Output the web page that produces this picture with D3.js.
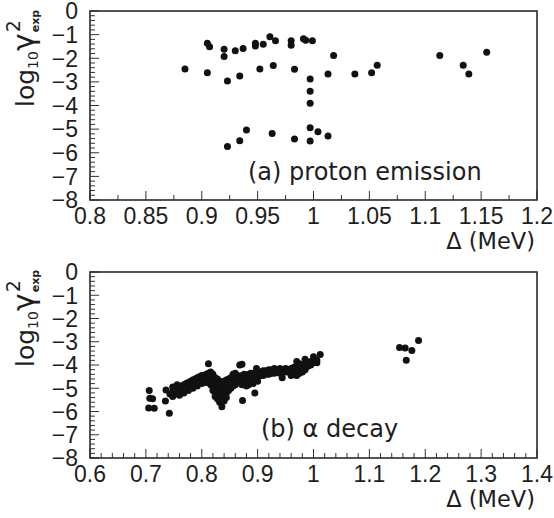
<!DOCTYPE html>
<html>
<head>
<meta charset="utf-8">
<title>log10 gamma2 exp vs Delta</title>
<script src="https://cdn.jsdelivr.net/npm/d3@7"></script>
<style>
body { margin: 0; background: #fff; }
svg text { font-family: "Liberation Sans", Arial, sans-serif; fill: #1e1e1e; }
svg text.wide { font-family: "DejaVu Sans", "Liberation Sans", sans-serif; }
</style>
</head>
<body>
<svg id="chart" width="554" height="518"></svg>
<script>

// ---- data: [Delta (MeV), log10 gamma^2_exp] ----
var protonPoints = [
    [0.885, -2.45],
    [0.905, -1.37], [0.907, -1.51], [0.905, -2.61],
    [0.920, -1.62], [0.920, -1.93], [0.923, -2.96],
    [0.930, -1.68], [0.937, -1.59], [0.934, -2.75],
    [0.923, -5.74], [0.934, -5.49], [0.940, -5.04],
    [0.948, -1.37], [0.948, -1.48], [0.955, -1.41], [0.952, -2.45],
    [0.961, -1.09], [0.964, -2.31], [0.963, -5.18], [0.966, -1.26],
    [0.980, -1.26], [0.980, -1.45], [0.983, -2.47], [0.983, -5.42],
    [0.991, -1.17], [0.993, -1.24], [0.999, -1.26],
    [0.997, -2.88], [0.997, -3.40], [0.997, -3.91], [0.997, -4.94], [0.997, -5.50],
    [1.004, -5.11], [1.013, -5.29], [1.013, -2.67], [1.018, -1.88],
    [1.037, -2.67], [1.052, -2.61], [1.057, -2.30],
    [1.113, -1.88], [1.134, -2.30], [1.139, -2.67], [1.155, -1.75]
];

var alphaPoints = [
    // left stragglers
    [0.706, -5.10], [0.707, -5.43], [0.712, -5.45], [0.705, -5.85], [0.715, -5.86],
    [0.736, -5.08], [0.735, -5.55], [0.742, -6.08], [0.743, -5.25],
    // rising band
    [0.748, -5.15], [0.748, -5.35], [0.748, -4.95], [0.752, -5.05], [0.752, -5.25],
    [0.756, -5.00], [0.756, -5.20], [0.756, -4.85], [0.760, -4.95], [0.760, -5.15], [0.760, -5.30],
    [0.764, -4.90], [0.764, -5.10], [0.768, -4.85], [0.768, -5.05], [0.768, -5.20],
    [0.772, -4.80], [0.772, -5.00], [0.776, -4.75], [0.776, -4.95], [0.776, -5.10],
    [0.780, -4.70], [0.780, -4.90], [0.784, -4.65], [0.784, -4.85], [0.784, -5.00],
    [0.788, -4.60], [0.788, -4.80], [0.792, -4.55], [0.792, -4.75], [0.792, -4.90],
    [0.796, -4.50], [0.796, -4.70], [0.800, -4.45], [0.800, -4.65], [0.800, -4.80],
    [0.804, -4.45], [0.804, -4.60], [0.808, -4.40], [0.808, -4.60], [0.808, -4.75],
    [0.812, -3.95], [0.812, -4.35], [0.812, -4.55],
    // the dip
    [0.816, -4.30], [0.816, -4.50], [0.816, -4.70], [0.816, -4.85],
    [0.820, -4.40], [0.820, -4.65], [0.820, -4.95], [0.820, -5.10],
    [0.824, -4.55], [0.824, -4.80], [0.824, -5.20], [0.824, -5.35],
    [0.828, -4.60], [0.828, -4.90], [0.828, -5.10], [0.828, -5.45],
    [0.832, -4.70], [0.832, -5.00], [0.832, -5.30], [0.832, -5.60],
    [0.836, -4.75], [0.836, -5.15], [0.836, -5.45], [0.836, -5.80],
    [0.840, -4.70], [0.840, -5.00], [0.840, -5.30], [0.840, -5.55],
    [0.844, -4.65], [0.844, -4.95], [0.844, -5.20], [0.844, -5.40],
    [0.848, -4.60], [0.848, -4.85], [0.848, -5.10],
    [0.852, -4.55], [0.852, -4.80], [0.852, -5.00],
    [0.856, -4.40], [0.856, -4.70], [0.856, -4.90],
    [0.860, -4.35], [0.860, -4.60], [0.860, -4.85],
    // upper band to the right
    [0.868, -4.00], [0.872, -3.97], [0.873, -5.53],
    [0.864, -4.45], [0.864, -4.70], [0.868, -4.50], [0.868, -4.75],
    [0.872, -4.45], [0.872, -4.65], [0.872, -4.85], [0.876, -4.40], [0.876, -4.60], [0.876, -4.80],
    [0.880, -4.45], [0.880, -4.65], [0.880, -4.90], [0.884, -4.40], [0.884, -4.60], [0.884, -4.85],
    [0.888, -4.35], [0.888, -4.55], [0.888, -4.75], [0.892, -4.35], [0.892, -4.55], [0.892, -4.80],
    [0.895, -5.20], [0.898, -4.15],
    [0.900, -4.30], [0.900, -4.50], [0.900, -4.70], [0.905, -4.30], [0.905, -4.45],
    [0.910, -4.25], [0.910, -4.45], [0.915, -4.25], [0.915, -4.40],
    [0.920, -4.20], [0.920, -4.40], [0.925, -4.20], [0.925, -4.35],
    [0.930, -4.15], [0.930, -4.35], [0.935, -4.20], [0.935, -4.30],
    [0.940, -4.15], [0.940, -4.35], [0.944, -4.55], [0.945, -4.20], [0.945, -4.30],
    [0.950, -4.15], [0.950, -4.30], [0.955, -4.20], [0.955, -4.30],
    [0.960, -4.15], [0.960, -4.35], [0.960, -4.45], [0.965, -4.10], [0.965, -4.30], [0.965, -4.40],
    [0.970, -3.85], [0.970, -4.10], [0.970, -4.30], [0.970, -4.45],
    [0.975, -3.95], [0.975, -4.20], [0.975, -4.35], [0.980, -4.00], [0.980, -4.15], [0.980, -4.30],
    [0.985, -3.75], [0.985, -4.00], [0.985, -4.20], [0.990, -3.90], [0.990, -4.05],
    [0.995, -3.85], [0.995, -4.00], [1.000, -3.65], [1.000, -3.90],
    [1.006, -3.90], [1.006, -3.80], [1.012, -3.55],
    // isolated group near 1.17 MeV
    [1.154, -3.25], [1.164, -3.27], [1.176, -3.38], [1.188, -2.95], [1.166, -3.80]
];

var protonXTicks = [0.8, 0.85, 0.9, 0.95, 1, 1.05, 1.1, 1.15, 1.2];
var alphaXTicks = [0.6, 0.7, 0.8, 0.9, 1, 1.1, 1.2, 1.3, 1.4];
var yTickValues = [0, -1, -2, -3, -4, -5, -6, -7, -8];

var svg = d3.select('#chart');

// one framed panel: scatter, inward ticks on left and bottom, labels
function drawPanel(p) {
    var x = d3.scaleLinear().domain(p.xDomain).range([90, 537]);
    var y = d3.scaleLinear().domain([-8, 0]).range([p.bottom, p.top]);
    var g = svg.append('g');

    // ticks, majors longer
    var yMinor = d3.range(0, 41).map(function (i) { return -8 + i * 0.2; });
    g.selectAll('.ymin').data(yMinor).enter().append('line')
        .attr('x1', 90).attr('x2', function (d, i) { return i % 5 === 0 ? 99 : 95; })
        .attr('y1', function (d) { return y(d); }).attr('y2', function (d) { return y(d); })
        .attr('stroke', '#333').attr('stroke-width', 1);

    var n = Math.round((p.xDomain[1] - p.xDomain[0]) / p.xMinorStep);
    var xMinor = d3.range(0, n + 1).map(function (i) { return p.xDomain[0] + i * p.xMinorStep; });
    g.selectAll('.xmin').data(xMinor).enter().append('line')
        .attr('x1', function (d) { return x(d); }).attr('x2', function (d) { return x(d); })
        .attr('y1', p.bottom)
        .attr('y2', function (d, i) { return p.bottom - (i % p.majorEvery === 0 ? 9 : 5); })
        .attr('stroke', '#333').attr('stroke-width', 1);

    // frame
    g.append('rect')
        .attr('x', 90).attr('y', p.top)
        .attr('width', 447).attr('height', p.bottom - p.top)
        .attr('fill', 'none').attr('stroke', '#2a2a2a').attr('stroke-width', 1.6);

    // tick labels
    g.selectAll('.ylab').data(yTickValues).enter().append('text')
        .attr('x', 78).attr('y', function (d) { return y(d); })
        .attr('dy', '0.36em').attr('text-anchor', 'end')
        .style('font-size', '23px')
        .text(function (d) { return d === 0 ? '0' : '\u2212' + Math.abs(d); });

    g.selectAll('.xlab').data(p.xTicks).enter().append('text')
        .attr('x', function (d) { return x(d); }).attr('y', p.bottom + 24)
        .attr('text-anchor', 'middle')
        .style('font-size', '23px')
        .text(function (d) { return String(+d.toFixed(2)); });

    // points
    g.selectAll('circle').data(p.points).enter().append('circle')
        .attr('cx', function (d) { return x(d[0]); })
        .attr('cy', function (d) { return y(d[1]); })
        .attr('r', 3.5)
        .attr('fill', '#111');

    // panel caption
    g.append('text').attr('class', 'wide')
        .attr('x', p.labelX).attr('y', p.labelY)
        .style('font-size', '24px')
        .text(p.label);

    // x title
    g.append('text').attr('class', 'wide')
        .attr('x', 535).attr('y', p.bottom + 49)
        .attr('text-anchor', 'end')
        .style('font-size', '22.5px')
        .text('\u0394 (MeV)');

    // y title: log10 gamma^2_exp, rotated
    var t = g.append('g').attr('transform', 'translate(34,' + p.titleBase + ') rotate(-90)');
    var pos = 0;
    function piece(str, size, shift, bold) {
        var el = t.append('text').attr('class', 'wide').attr('x', pos).attr('y', shift)
            .style('font-size', size + 'px').text(str);
        if (bold) el.style('font-weight', 'bold');
        return el.node().getComputedTextLength();
    }
    pos += piece('log', 25, 0);
    pos += piece('10', 14, 4);
    pos += piece('\u03b3', 30, 0) + 1;
    piece('2', 19, -14);
    piece('exp', 11, 5, true);
}

drawPanel({
    top: 11, bottom: 200, xDomain: [0.8, 1.2], xTicks: protonXTicks,
    xMinorStep: 0.025, majorEvery: 2, points: protonPoints,
    label: '(a) proton emission', labelX: 248, labelY: 180, titleBase: 107
});

drawPanel({
    top: 272, bottom: 458, xDomain: [0.6, 1.4], xTicks: alphaXTicks,
    xMinorStep: 0.02, majorEvery: 5, points: alphaPoints,
    label: '(b) \u03b1 decay', labelX: 261, labelY: 437, titleBase: 367
});

</script>
</body>
</html>
